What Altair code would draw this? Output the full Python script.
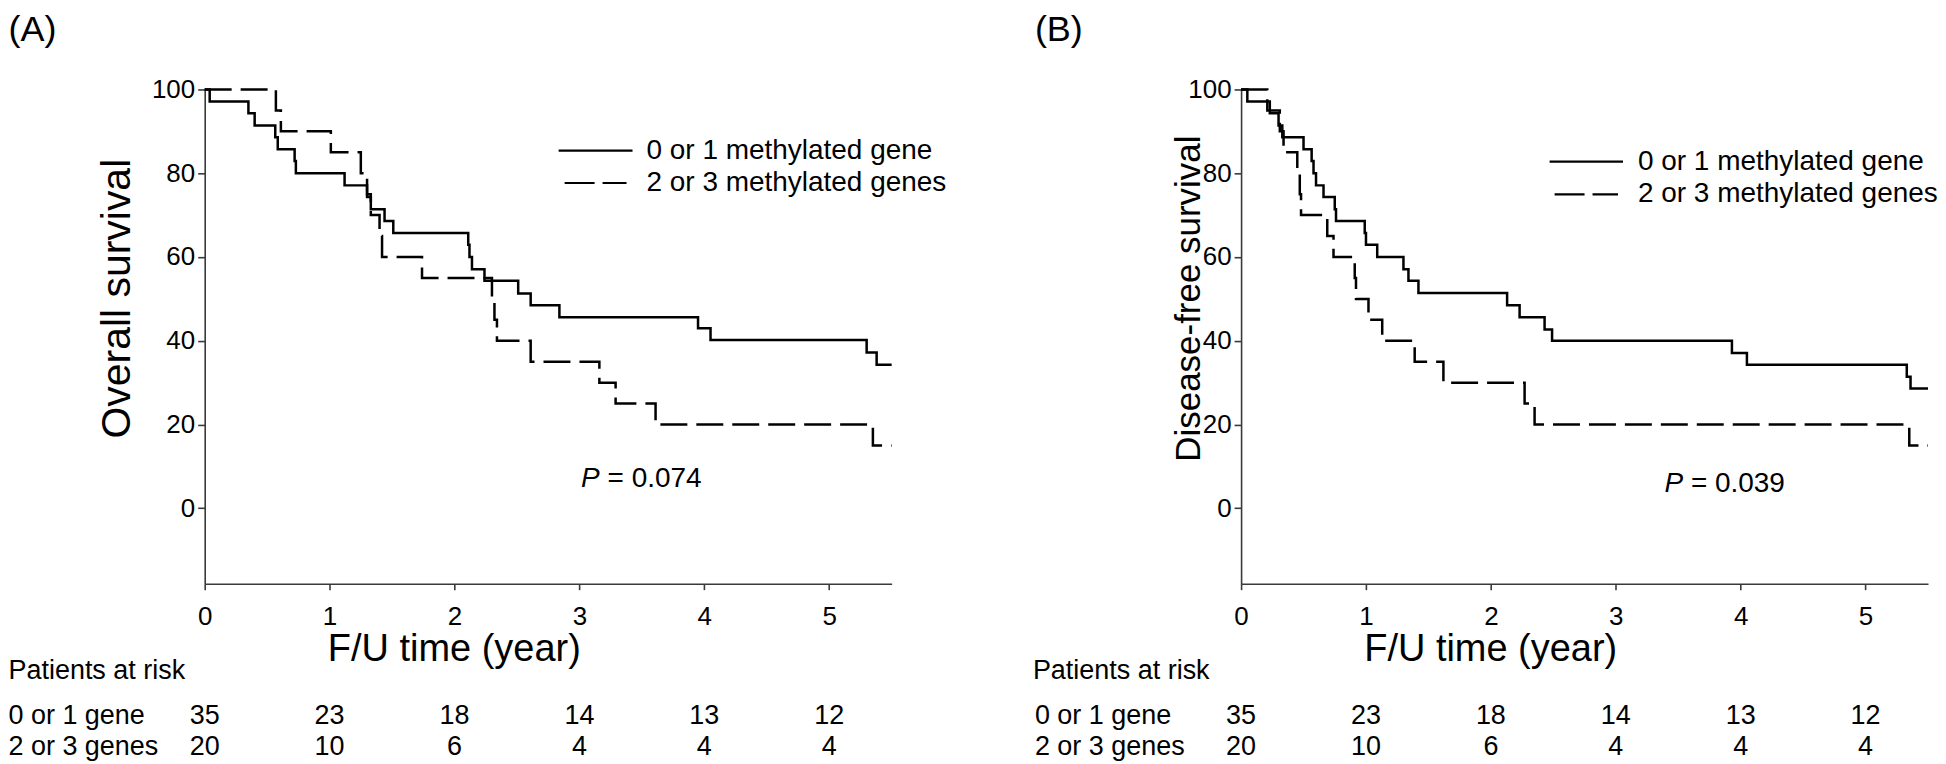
import altair as alt
import pandas as pd

# ---------------- data ----------------
# Panel A: overall survival (%), step points (time in years)
A_LOW_T = [0, 0.04, 0.35, 0.40, 0.565, 0.585, 0.72, 0.73, 1.12, 1.30, 1.33, 1.44, 1.51,
           2.11, 2.12, 2.14, 2.24, 2.51, 2.61, 2.84, 3.95, 4.05, 5.30, 5.38, 5.5]
A_LOW_S = [100, 97.1, 94.3, 91.4, 88.6, 85.7, 82.9, 80.0, 77.1, 74.3, 71.4, 68.6, 65.7,
           62.9, 60.0, 57.1, 54.3, 51.3, 48.5, 45.6, 43.0, 40.2, 37.2, 34.3, 34.3]
A_HIGH_T = [0, 0.57, 0.61, 1.01, 1.25, 1.30, 1.33, 1.40, 1.42, 1.74, 2.30, 2.32, 2.34,
            2.61, 3.16, 3.29, 3.61, 5.35, 5.5]
A_HIGH_S = [100, 95, 90, 85, 80, 75, 70, 65, 60, 55, 50, 45, 40, 35, 30, 25, 20, 15, 15]

# Panel B: disease-free survival (%)
B_LOW_T = [0, 0.05, 0.23, 0.30, 0.33, 0.50, 0.565, 0.58, 0.60, 0.66, 0.75, 0.76, 0.99, 1.00,
           1.09, 1.30, 1.34, 1.42, 2.13, 2.23, 2.43, 2.49, 3.93, 4.05, 5.33, 5.36, 5.5]
B_LOW_S = [100, 97.1, 94.3, 91.4, 88.6, 85.7, 82.9, 80.0, 77.1, 74.3, 71.4, 68.6, 65.7, 62.9,
           60.0, 57.1, 54.3, 51.4, 48.5, 45.6, 42.7, 40.0, 37.1, 34.3, 31.4, 28.6, 28.6]
B_HIGH_T = [0, 0.21, 0.31, 0.34, 0.45, 0.47, 0.48, 0.69, 0.74, 0.91, 0.92, 1.02, 1.13,
            1.39, 1.62, 2.27, 2.35, 5.35, 5.5]
B_HIGH_S = [100, 95, 90, 85, 80, 75, 70, 65, 60, 55, 50, 45, 40, 35, 30, 25, 20, 15, 15]

GROUPS = ["0 or 1 methylated gene", "2 or 3 methylated genes"]
RISK_GROUPS = ["0 or 1 gene", "2 or 3 genes"]
RISK_HEADER = "Patients at risk"
RISK_T = [0, 1, 2, 3, 4, 5]
RISK_LOW = [35, 23, 18, 14, 13, 12]
RISK_HIGH = [20, 10, 6, 4, 4, 4]
PANEL_LABELS = ["(A)", "(B)"]
Y_TITLES = ["Overall survival", "Disease-free survival"]
X_TITLE = "F/U time (year)"
P_VALUES = ["0.074", "0.039"]
Y_TICKS = [0, 20, 40, 60, 80, 100]

# ---------------- styling / layout ----------------
FONT = "Liberation Sans"
W, H = 688, 495
XMAX, YMIN = 5.5, -18
LW = 2.5

LAYOUT = [
    dict(lab_x=-196.5, ytitle_x=-86.5, ytitle_fs=41, header_x=-196.5, rows_x=-196.5,
         leg_solid=(354.5, 428.5, 61.3), leg_dash=(360.5, 422.5, 93.7), leg_text_x=442.5,
         p=(377, 389.7)),
    dict(lab_x=-206.5, ytitle_x=-52, ytitle_fs=35, header_x=-208.5, rows_x=-206.5,
         leg_solid=(309, 382.5, 72.3), leg_dash=(314, 377.5, 105), leg_text_x=397.5,
         p=(424, 395)),
]


def one_row(**kw):
    return pd.DataFrame({k: [v] for k, v in kw.items()})


def panel(i, low_t, low_s, high_t, high_s):
    L = LAYOUT[i]
    xs = alt.Scale(domain=[0, XMAX], nice=False, zero=False)
    ys = alt.Scale(domain=[YMIN, 100], nice=False, zero=False)
    xax = alt.Axis(values=RISK_T, format="d", title=None, grid=False, tickSize=6,
                   labelPadding=14, labelFlush=False, labelOverlap=False)
    yax = alt.Axis(values=Y_TICKS, title=None, grid=False, tickSize=7, labelPadding=3,
                   labelOverlap=False)

    low = pd.DataFrame({"t": low_t, "s": low_s})
    high = pd.DataFrame({"t": high_t, "s": high_s})

    solid = alt.Chart(low).mark_line(interpolate="step-after", color="black",
                                     strokeWidth=LW).encode(
        x=alt.X("t:Q", scale=xs, axis=xax), y=alt.Y("s:Q", scale=ys, axis=yax))
    dashed = alt.Chart(high).mark_line(interpolate="step-after", color="black",
                                       strokeWidth=LW, strokeDash=[27, 9]).encode(
        x=alt.X("t:Q", scale=xs, axis=xax), y=alt.Y("s:Q", scale=ys, axis=yax))

    layers = [solid, dashed]

    # panel label
    layers.append(alt.Chart(one_row(txt=PANEL_LABELS[i])).mark_text(
        font=FONT, fontSize=36, align="left", baseline="top", color="black").encode(
        x=alt.value(L["lab_x"]), y=alt.value(-77), text="txt:N"))
    # y title
    layers.append(alt.Chart(one_row(txt=Y_TITLES[i])).mark_text(
        font=FONT, fontSize=L["ytitle_fs"], align="center", baseline="middle", angle=270,
        color="black").encode(x=alt.value(L["ytitle_x"]), y=alt.value(209.5), text="txt:N"))
    # x title
    layers.append(alt.Chart(one_row(txt=X_TITLE)).mark_text(
        font=FONT, fontSize=38, align="center", baseline="middle", color="black").encode(
        x=alt.value(250), y=alt.value(561), text="txt:N"))
    # legend
    sx1, sx2, sy = L["leg_solid"]
    dx1, dx2, dy = L["leg_dash"]
    layers.append(alt.Chart(one_row(g=GROUPS[0])).mark_rule(
        color="black", strokeWidth=2.2).encode(
        x=alt.value(sx1), x2=alt.value(sx2), y=alt.value(sy)))
    layers.append(alt.Chart(one_row(g=GROUPS[1])).mark_rule(
        color="black", strokeWidth=2.2, strokeDash=[30, 8]).encode(
        x=alt.value(dx1), x2=alt.value(dx2), y=alt.value(dy)))
    for g, yy in zip(GROUPS, [sy, dy]):
        layers.append(alt.Chart(one_row(g=g)).mark_text(
            font=FONT, fontSize=28, align="left", baseline="middle", color="black").encode(
            x=alt.value(L["leg_text_x"]), y=alt.value(yy), text="g:N"))
    # p value
    px, py = L["p"]
    layers.append(alt.Chart(one_row(txt="P")).mark_text(
        font=FONT, fontSize=28, fontStyle="italic", align="left", baseline="middle",
        color="black").encode(x=alt.value(px), y=alt.value(py), text="txt:N"))
    layers.append(alt.Chart(one_row(txt="= " + P_VALUES[i])).mark_text(
        font=FONT, fontSize=28, align="left", baseline="middle", color="black").encode(
        x=alt.value(px + 26.5), y=alt.value(py), text="txt:N"))
    # risk table
    layers.append(alt.Chart(one_row(txt=RISK_HEADER)).mark_text(
        font=FONT, fontSize=27, align="left", baseline="middle", color="black").encode(
        x=alt.value(L["header_x"]), y=alt.value(582), text="txt:N"))
    for lab, counts, yy in zip(RISK_GROUPS, [RISK_LOW, RISK_HIGH], [628, 659]):
        layers.append(alt.Chart(one_row(txt=lab)).mark_text(
            font=FONT, fontSize=27, align="left", baseline="middle", color="black").encode(
            x=alt.value(L["rows_x"]), y=alt.value(yy), text="txt:N"))
        rdf = pd.DataFrame({"t": RISK_T, "n": counts})
        layers.append(alt.Chart(rdf).mark_text(
            font=FONT, fontSize=27, align="center", baseline="middle", color="black").encode(
            x=alt.X("t:Q", scale=xs, axis=xax), y=alt.value(yy), text="n:Q"))

    return alt.layer(*layers).properties(width=W, height=H)


pa = panel(0, A_LOW_T, A_LOW_S, A_HIGH_T, A_HIGH_S)
pb = panel(1, B_LOW_T, B_LOW_S, B_HIGH_T, B_HIGH_S)

chart = alt.hconcat(pa, pb, spacing=350, bounds="flush").properties(
    padding={"top": 3, "left": 0, "right": 0, "bottom": 0}
).configure_view(stroke=None).configure_axis(
    domainColor="#3a3a3a", tickColor="#3a3a3a", domainWidth=1.6, tickWidth=1.6,
    labelColor="black", labelFont=FONT, labelFontSize=26,
)

chart.save("out.html", embed_options={"renderer": "svg", "actions": False})
